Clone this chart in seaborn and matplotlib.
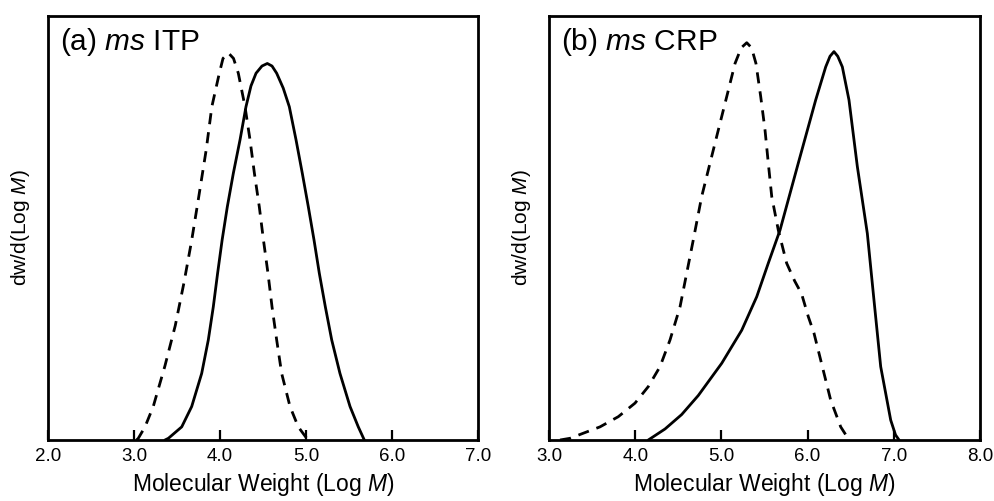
import numpy as np
import pandas as pd
import matplotlib
matplotlib.use("Agg")
import matplotlib.pyplot as plt
import seaborn as sns

# ---- data ----
# (a) ms ITP
itp_solid_x = [3.36, 3.40, 3.555, 3.671, 3.787, 3.864, 3.922, 3.972, 4.025, 4.085, 4.155, 4.233,
               4.302, 4.36, 4.419, 4.488, 4.550, 4.605, 4.659, 4.735, 4.806, 4.884, 4.957, 5.027,
               5.093, 5.155, 5.225, 5.299, 5.395, 5.512, 5.608, 5.678]
itp_solid_y = [0.0, 0.004, 0.031, 0.079, 0.157, 0.236, 0.314, 0.393, 0.472, 0.550, 0.629, 0.708,
               0.786, 0.835, 0.865, 0.882, 0.888, 0.882, 0.865, 0.830, 0.786, 0.708, 0.629, 0.550,
               0.472, 0.393, 0.314, 0.236, 0.157, 0.079, 0.031, 0.0]
itp_dash_x = [3.03, 3.050, 3.128, 3.224, 3.360, 3.480, 3.580, 3.670, 3.750, 3.840, 3.905,
              3.992, 4.035, 4.097, 4.157, 4.213, 4.291, 4.349, 4.400, 4.457, 4.505, 4.558,
              4.605, 4.659, 4.717, 4.814, 4.910, 5.008]
itp_dash_y = [0.0, 0.004, 0.031, 0.079, 0.175, 0.270, 0.370, 0.470, 0.570, 0.685, 0.786,
              0.865, 0.900, 0.913, 0.900, 0.865, 0.786, 0.708, 0.629, 0.550, 0.472, 0.393,
              0.314, 0.236, 0.157, 0.079, 0.031, 0.004]

# (b) ms CRP
crp_solid_x = [4.152, 4.346, 4.539, 4.732, 5.004, 5.236, 5.410, 5.544, 5.680, 5.892,
               6.094, 6.210, 6.260, 6.306, 6.350, 6.403, 6.480, 6.577, 6.693, 6.770, 6.848,
               6.964, 7.020, 7.061]
crp_solid_y = [0.0, 0.026, 0.060, 0.105, 0.181, 0.259, 0.338, 0.417, 0.495, 0.653,
               0.802, 0.880, 0.905, 0.916, 0.905, 0.880, 0.802, 0.645, 0.487, 0.330, 0.173,
               0.047, 0.012, 0.0]
crp_dash_x = [3.128, 3.244, 3.398, 3.592, 3.804, 3.998, 4.152, 4.288, 4.404, 4.520, 4.597,
              4.674, 4.771, 4.868, 4.964, 5.062, 5.158, 5.230, 5.294, 5.350, 5.401, 5.456,
              5.506, 5.544, 5.584, 5.660, 5.757, 5.850, 5.930, 6.008, 6.074, 6.171, 6.268,
              6.384, 6.45, 6.500]
crp_dash_y = [0.0, 0.004, 0.016, 0.031, 0.055, 0.087, 0.126, 0.173, 0.236, 0.314, 0.393,
              0.472, 0.574, 0.653, 0.731, 0.810, 0.888, 0.925, 0.937, 0.925, 0.888, 0.810,
              0.731, 0.653, 0.574, 0.495, 0.417, 0.375, 0.345, 0.291, 0.252, 0.173, 0.094,
              0.031, 0.010, 0.0]

panel_titles = ["(a) $\\mathit{ms}$ ITP", "(b) $\\mathit{ms}$ CRP"]
xticks_a = [2.0, 3.0, 4.0, 5.0, 6.0, 7.0]
xticks_b = [3.0, 4.0, 5.0, 6.0, 7.0, 8.0]

sns.set_style("ticks")
plt.rcParams['font.family'] = ['Liberation Sans', 'DejaVu Sans']
plt.rcParams['mathtext.fontset'] = 'custom'
plt.rcParams['mathtext.rm'] = 'Liberation Sans'
plt.rcParams['mathtext.it'] = 'Liberation Sans:italic'
plt.rcParams['mathtext.bf'] = 'Liberation Sans:bold'
plt.rcParams['text.color'] = 'black'
plt.rcParams['axes.labelcolor'] = 'black'
plt.rcParams['xtick.color'] = 'black'
plt.rcParams['xtick.labelcolor'] = 'black'

fig = plt.figure(figsize=(9.94, 5.01), dpi=100)
ax1 = fig.add_axes([48/994, 61/501, 430/994, 424/501])
ax2 = fig.add_axes([549/994, 61/501, 431/994, 424/501])

lw = 2.0
dash = (4.0, 2.9)

def draw(ax, sx, sy, dx, dy, ticks, title):
    d1 = pd.DataFrame({"x": dx, "y": dy})
    d2 = pd.DataFrame({"x": sx, "y": sy})
    sns.lineplot(data=d1, x="x", y="y", ax=ax, color="black", lw=lw, sort=False,
                 linestyle=(0, dash), estimator=None)
    sns.lineplot(data=d2, x="x", y="y", ax=ax, color="black", lw=lw, sort=False,
                 estimator=None)
    for ln in ax.lines:
        ln.set_solid_joinstyle("round")
        ln.set_dash_joinstyle("round")
    ax.set_xlim(ticks[0], ticks[-1])
    ax.set_ylim(0, 1.0)
    ax.set_xticks(ticks)
    ax.set_xticklabels([f"{t:.1f}" for t in ticks], fontsize=13.5)
    ax.set_yticks([])
    ax.tick_params(axis="x", direction="in", length=7, width=1.6, pad=6, color="black")
    for s in ax.spines.values():
        s.set_visible(True)
        s.set_linewidth(2.0)
        s.set_color("black")
    ax.set_xlabel("Molecular Weight (Log $\\mathit{M}$)", fontsize=16.5)
    ax.xaxis.set_label_coords(0.5, -0.073)
    ax.set_ylabel("dw/d(Log $\\mathit{M}$)", fontsize=15)
    ax.yaxis.set_label_coords(-0.037, 0.5)
    ax.text(0.028, 0.92, title, transform=ax.transAxes, fontsize=21.5,
            ha="left", va="baseline")

draw(ax1, itp_solid_x, itp_solid_y, itp_dash_x, itp_dash_y, xticks_a, panel_titles[0])
draw(ax2, crp_solid_x, crp_solid_y, crp_dash_x, crp_dash_y, xticks_b, panel_titles[1])

fig.savefig("out.png", dpi=100)
